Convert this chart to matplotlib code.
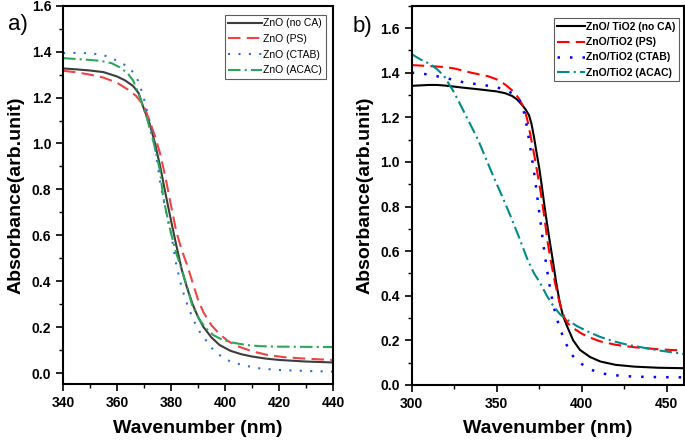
import matplotlib
matplotlib.use("Agg")
import matplotlib.pyplot as plt
from matplotlib.ticker import MultipleLocator

plt.rcParams['font.family'] = ['Liberation Sans', 'DejaVu Sans']

# ---- panel a: ZnO ----
a_labels = ["ZnO (no CA)", "ZnO (PS)", "ZnO (CTAB)", "ZnO (ACAC)"]

a_noca_x = [340, 345, 350, 355, 360, 363, 366, 368, 370, 372, 374, 376, 378, 380, 382, 384, 386, 388,
            390, 392, 395, 398, 402, 406, 410, 415, 420, 430, 440]
a_noca_y = [1.327, 1.323, 1.318, 1.311, 1.292, 1.275, 1.25, 1.22, 1.15, 1.09, 1.005, 0.90, 0.78, 0.665,
            0.555, 0.45, 0.37, 0.30, 0.245, 0.201, 0.155, 0.122, 0.097, 0.082, 0.072, 0.063, 0.057, 0.05, 0.046]

a_ps_x = [340, 345, 350, 355, 360, 364, 367, 370, 372, 374, 376, 378, 380, 382, 384, 386, 388, 390, 392,
          395, 398, 401, 404, 407, 411, 416, 422, 428, 434, 440]
a_ps_y = [1.317, 1.31, 1.30, 1.287, 1.265, 1.235, 1.208, 1.165, 1.10, 1.035, 0.955, 0.85, 0.73, 0.615,
          0.535, 0.47, 0.395, 0.32, 0.265, 0.208, 0.17, 0.14, 0.12, 0.107, 0.092, 0.078, 0.069, 0.064, 0.06, 0.057]

a_ctab_x = [340, 345, 350, 355, 358, 361, 364, 366, 368, 370, 372, 374, 376, 378, 380, 382, 384, 386, 388,
            390, 392, 395, 398, 402, 407, 413, 420, 430, 440]
a_ctab_y = [1.394, 1.395, 1.393, 1.385, 1.372, 1.355, 1.335, 1.31, 1.27, 1.195, 1.1, 0.99, 0.83, 0.71, 0.61,
            0.47, 0.37, 0.30, 0.24, 0.19, 0.158, 0.11, 0.078, 0.05, 0.033, 0.02, 0.013, 0.009, 0.006]

a_acac_x = [340, 345, 350, 354, 358, 361, 364, 366, 368.5, 371, 373.4, 375.9, 377.1, 379, 380, 382, 384,
            386, 388, 390.7, 393, 395.7, 399, 403, 408, 413, 420, 430, 440]
a_acac_y = [1.372, 1.368, 1.364, 1.36, 1.35, 1.332, 1.305, 1.274, 1.201, 1.114, 1.013, 0.883, 0.767, 0.66,
            0.61, 0.52, 0.45, 0.375, 0.29, 0.23, 0.195, 0.165, 0.145, 0.132, 0.122, 0.117, 0.115, 0.114, 0.113]

# ---- panel b: ZnO/TiO2 ----
b_labels = ["ZnO/ TiO2 (no CA)", "ZnO/TiO2 (PS)", "ZnO/TiO2 (CTAB)", "ZnO/TiO2 (ACAC)"]

b_noca_x = [300, 305, 310, 315, 320, 330, 340, 350, 355, 359, 362, 365, 367, 369, 370.5, 372, 373.5, 375,
            376.5, 378, 379.5, 381, 383, 385, 387, 389, 391.5, 395, 399, 405, 411, 420, 431, 445, 460]
b_noca_y = [1.341, 1.343, 1.345, 1.345, 1.342, 1.333, 1.325, 1.316, 1.308, 1.296, 1.28, 1.255, 1.235, 1.21,
            1.17, 1.11, 1.04, 0.975, 0.895, 0.81, 0.73, 0.655, 0.56, 0.46, 0.375, 0.31, 0.262, 0.20, 0.157,
            0.125, 0.105, 0.09, 0.082, 0.077, 0.075]

b_ps_x = [300, 310, 320, 325, 335, 345, 350, 355, 360, 363, 366, 368, 370, 372, 374, 376, 378, 380, 382,
          384, 386, 388, 390, 392, 395, 400, 405, 411, 420, 431, 445, 460]
b_ps_y = [1.434, 1.43, 1.425, 1.419, 1.40, 1.384, 1.37, 1.347, 1.315, 1.285, 1.245, 1.19, 1.115, 1.035,
          0.948, 0.86, 0.755, 0.64, 0.55, 0.47, 0.40, 0.34, 0.30, 0.275, 0.255, 0.23, 0.212, 0.195, 0.18,
          0.169, 0.16, 0.154]

b_ctab_x = [300, 307, 313, 319, 325, 331, 337, 343, 349, 355, 360.7, 363, 364.7, 366.5, 367.7, 369, 370.6,
            372.6, 374.6, 376.6, 378, 379.6, 381.5, 383.5, 385.5, 387.5, 390.5, 393.5, 396.5, 399.4, 405,
            411.3, 420, 431, 445, 460]
b_ctab_y = [1.40, 1.395, 1.387, 1.378, 1.367, 1.356, 1.35, 1.344, 1.335, 1.326, 1.30, 1.28, 1.258, 1.21,
            1.161, 1.10, 1.026, 0.921, 0.801, 0.682, 0.60, 0.517, 0.43, 0.352, 0.295, 0.247, 0.19, 0.142,
            0.115, 0.097, 0.07, 0.052, 0.043, 0.037, 0.035, 0.034]

b_acac_x = [300, 305, 311, 315, 319, 325, 331, 339, 348, 353, 358, 363, 368, 372, 375.6, 379.5, 383.5,
            387.5, 391.5, 397, 403.4, 411, 419.2, 427, 435, 445, 460]
b_acac_y = [1.483, 1.46, 1.438, 1.415, 1.386, 1.311, 1.221, 1.10, 0.936, 0.85, 0.76, 0.665, 0.565, 0.50,
            0.457, 0.40, 0.352, 0.315, 0.292, 0.265, 0.24, 0.215, 0.195, 0.18, 0.169, 0.155, 0.139]


def style_axes(ax):
    for s in ax.spines.values():
        s.set_linewidth(1.5)
    ax.tick_params(which='major', direction='out', length=5, width=1.2, labelsize=10,
                   top=False, right=False)
    ax.tick_params(which='minor', direction='out', length=3, width=1.0, top=False, right=False)
    for lab in ax.get_xticklabels() + ax.get_yticklabels():
        lab.set_fontweight('bold')
    ax.set_xlabel('Wavenumber (nm)', fontsize=14, fontweight='bold', labelpad=7)
    ax.set_ylabel('Absorbance(arb.unit)', fontsize=14, fontweight='bold', labelpad=5)


fig = plt.figure(figsize=(6.85, 4.45), dpi=100)

# panel a
ax1 = fig.add_axes([0.092, 0.137, 0.394, 0.85])
ax1.plot(a_noca_x, a_noca_y, color='#3c3c3c', lw=1.5, ls='-', label=a_labels[0])
ax1.plot(a_ps_x, a_ps_y, color='#ee4444', lw=1.5, ls=(0, (6, 3)), label=a_labels[1])
ax1.plot(a_ctab_x, a_ctab_y, color='#2b6fd6', lw=1.5, ls=(0, (1, 4)), label=a_labels[2])
ax1.plot(a_acac_x, a_acac_y, color='#2ea55a', lw=1.5, ls=(0, (6, 2, 1, 2)), label=a_labels[3])
ax1.set_xlim(340, 440)
ax1.set_ylim(-0.048, 1.6)
ax1.xaxis.set_major_locator(MultipleLocator(20))
ax1.xaxis.set_minor_locator(MultipleLocator(10))
ax1.yaxis.set_major_locator(MultipleLocator(0.2))
ax1.yaxis.set_minor_locator(MultipleLocator(0.1))
style_axes(ax1)
leg1 = ax1.legend(loc='upper right', fontsize=7.5, handlelength=3.2, frameon=True, fancybox=False,
                  edgecolor='#333333', borderaxespad=0.3, labelspacing=0.55, borderpad=0.35,
                  handletextpad=0.15, bbox_to_anchor=(0.985, 0.985))
leg1.get_frame().set_linewidth(0.8)
fig.text(0.012, 0.933, 'a)', fontsize=16)

# panel b
ax2 = fig.add_axes([0.601, 0.135, 0.397, 0.852])
ax2.plot(b_noca_x, b_noca_y, color='black', lw=1.5, ls='-', label=b_labels[0])
ax2.plot(b_ps_x, b_ps_y, color='red', lw=1.5, ls=(0, (6, 3)), label=b_labels[1])
ax2.plot(b_ctab_x, b_ctab_y, color='blue', lw=1.8, ls=(0, (1, 4)), label=b_labels[2])
ax2.plot(b_acac_x, b_acac_y, color='#008b8b', lw=1.5, ls=(0, (6, 2, 1, 2)), label=b_labels[3])
ax2.set_xlim(300, 460)
ax2.set_ylim(0, 1.7)
ax2.xaxis.set_major_locator(MultipleLocator(50))
ax2.xaxis.set_minor_locator(MultipleLocator(25))
ax2.yaxis.set_major_locator(MultipleLocator(0.2))
ax2.yaxis.set_minor_locator(MultipleLocator(0.1))
style_axes(ax2)
leg2 = ax2.legend(loc='upper right', prop={'size': 7.5, 'weight': 'bold'}, handlelength=2.6,
                  frameon=True, fancybox=False, edgecolor='#333333', borderaxespad=0.3,
                  labelspacing=0.5, borderpad=0.35, handletextpad=0.15,
                  bbox_to_anchor=(0.995, 0.975))
leg2.get_frame().set_linewidth(0.8)
fig.text(0.515, 0.927, 'b)', fontsize=16)

fig.savefig('out.png', dpi=100)
